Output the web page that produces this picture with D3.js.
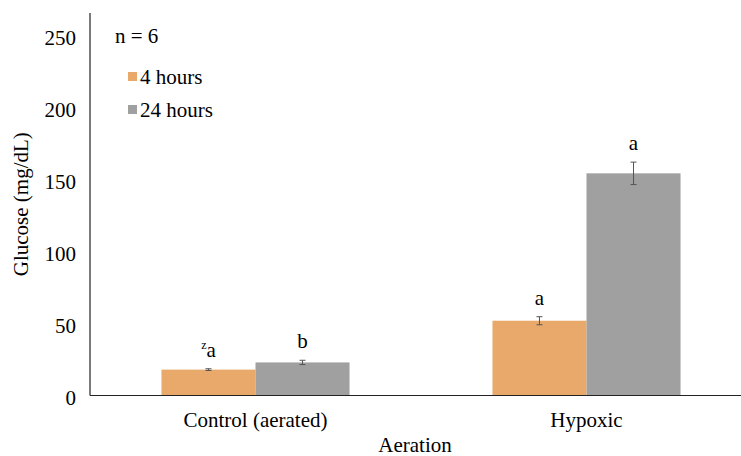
<!DOCTYPE html>
<meta charset="utf-8">
<style>
  body { margin: 0; background: #fff; }
</style>
<body>
<div id="chart"></div>
<script src="https://d3js.org/d3.v7.min.js"></script>
<script>

var categories = ["Control (aerated)", "Hypoxic"];
var series = ["4 hours", "24 hours"];
var colors = ["#E8A96B", "#A0A0A0"];
var hours4 = [18, 52];
var hours24 = [23, 154.5];
var err4 = [0.6, 2.8];
var err24 = [1.5, 7.8];
var letters4 = ["a", "a"];
var letters24 = ["b", "a"];
var yTicks = [0, 50, 100, 150, 200, 250];

var w = 741, h = 456;
var margin = {left: 90, top: 13, bottom: 61};

var svg = d3.select("#chart").append("svg")
    .attr("width", w)
    .attr("height", h)
    .attr("font-family", "'Liberation Serif', Tinos, 'Times New Roman', serif");

var y = d3.scaleLinear().domain([0, 266]).range([h - margin.bottom + 0.5, margin.top]);
var x0 = d3.scaleBand().domain(categories).range([margin.left, 752]);
var x1 = d3.scaleBand().domain(series).range([0, x0.bandwidth()]).paddingOuter(0.76);

var rows = categories.map(function(c, i) {
    return [
        {cat: c, s: series[0], v: hours4[i], e: err4[i], l: letters4[i], sup: i == 0 ? "z" : null, col: colors[0]},
        {cat: c, s: series[1], v: hours24[i], e: err24[i], l: letters24[i], sup: null, col: colors[1]}
    ];
});

var groups = svg.selectAll(".grp")
    .data(rows)
    .enter()
    .append("g")
    .attr("class", "grp")
    .attr("transform", function(d, i) { return "translate(" + x0(categories[i]) + ",0)"; });

var bars = groups.selectAll(".bar")
    .data(function(d) { return d; })
    .enter();

bars.append("rect")
    .attr("x", function(d) { return x1(d.s); })
    .attr("width", x1.bandwidth())
    .attr("y", function(d) { return y(d.v); })
    .attr("height", function(d) { return y(0) - y(d.v); })
    .attr("fill", function(d) { return d.col; });

// error bars
bars.append("path")
    .attr("d", function(d) {
        var cx = x1(d.s) + x1.bandwidth() / 2;
        var t = y(d.v + d.e), b = y(d.v - d.e);
        return "M" + (cx - 3) + "," + t + "H" + (cx + 3) +
            "M" + cx + "," + t + "V" + b +
            "M" + (cx - 3) + "," + b + "H" + (cx + 3);
    })
    .attr("stroke", "#555")
    .attr("stroke-width", 1)
    .attr("fill", "none");

// significance letters
var lt = bars.append("text")
    .attr("x", function(d) { return x1(d.s) + x1.bandwidth() / 2; })
    .attr("y", function(d) { return y(d.v + d.e) - 12; })
    .attr("text-anchor", "middle")
    .attr("font-size", 21);
lt.filter(function(d) { return d.sup; })
    .append("tspan")
    .attr("font-size", 12)
    .attr("dy", -8)
    .text(function(d) { return d.sup; });
lt.append("tspan")
    .attr("dy", function(d) { return d.sup ? 8 : 0; })
    .text(function(d) { return d.l; });

// axes
svg.append("line")
    .attr("x1", margin.left).attr("x2", 752)
    .attr("y1", y(0)).attr("y2", y(0))
    .attr("stroke", "#222").attr("stroke-width", 1.2);
svg.append("line")
    .attr("x1", margin.left).attr("x2", margin.left)
    .attr("y1", margin.top).attr("y2", y(0))
    .attr("stroke", "#222").attr("stroke-width", 1.2);

svg.selectAll(".ytick")
    .data(yTicks)
    .enter()
    .append("text")
    .attr("class", "ytick")
    .attr("x", 76)
    .attr("y", function(d) { return y(d) + 2; })
    .attr("dy", "0.35em")
    .attr("text-anchor", "end")
    .attr("font-size", 21)
    .text(function(d) { return d; });

svg.selectAll(".xlab")
    .data(categories)
    .enter()
    .append("text")
    .attr("x", function(d) { return x0(d) + x0.bandwidth() / 2; })
    .attr("y", 427)
    .attr("text-anchor", "middle")
    .attr("font-size", 21)
    .text(function(d) { return d; });

svg.append("text")
    .attr("x", 415)
    .attr("y", 452)
    .attr("text-anchor", "middle")
    .attr("font-size", 21)
    .text("Aeration");

svg.append("text")
    .attr("transform", "translate(28," + ((margin.top + y(0)) / 2) + ") rotate(-90)")
    .attr("text-anchor", "middle")
    .attr("font-size", 21)
    .text("Glucose (mg/dL)");

svg.append("text")
    .attr("x", 115)
    .attr("y", 43)
    .attr("font-size", 21)
    .text("n = 6");

// legend
var legend = svg.selectAll(".leg")
    .data(series)
    .enter()
    .append("g")
    .attr("class", "leg")
    .attr("transform", function(d, i) { return "translate(128," + (77 + i * 33) + ")"; });
legend.append("rect")
    .attr("x", 0).attr("y", -5)
    .attr("width", 9).attr("height", 9)
    .attr("fill", function(d, i) { return colors[i]; });
legend.append("text")
    .attr("x", 12)
    .attr("y", 0)
    .attr("dy", "0.35em")
    .attr("font-size", 21)
    .text(function(d) { return d; });
</script>
